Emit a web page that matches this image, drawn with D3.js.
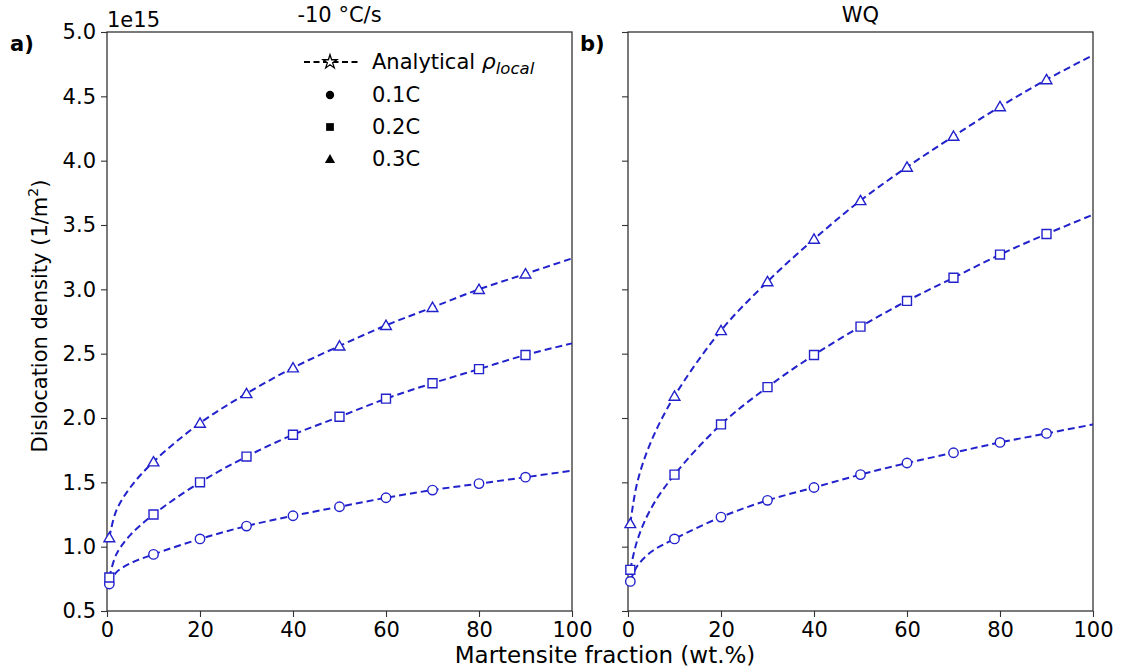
<!DOCTYPE html>
<html><head><meta charset="utf-8">
<script src="https://cdn.jsdelivr.net/npm/d3@7"></script>
<style>body{margin:0;background:#fff}svg{display:block}text{font-family:"DejaVu Sans",sans-serif;fill:#000}</style>
</head><body><svg id="c" width="1122" height="670"></svg>
<script>
// ---- data ----
const xCurve  = [0.5, 2, 5, 10, 20, 30, 40, 50, 60, 70, 80, 90, 100];
const xMarker = [0.5, 10, 20, 30, 40, 50, 60, 70, 80, 90];
const seriesNames = ["0.1C", "0.2C", "0.3C"];
const panelTitles = ["-10 °C/s", "WQ"];
const panelTags = ["a)", "b)"];
// left panel: -10 °C/s
const slow01 = [0.71, 0.80, 0.87, 0.94, 1.06, 1.16, 1.24, 1.31, 1.38, 1.44, 1.49, 1.54, 1.59];
const slow02 = [0.76, 0.94, 1.09, 1.25, 1.50, 1.70, 1.87, 2.01, 2.15, 2.27, 2.38, 2.49, 2.58];
const slow03 = [1.07, 1.28, 1.46, 1.66, 1.96, 2.19, 2.39, 2.56, 2.72, 2.86, 3.00, 3.12, 3.24];
// right panel: WQ
const wq01 = [0.73, 0.85, 0.96, 1.06, 1.23, 1.36, 1.46, 1.56, 1.65, 1.73, 1.81, 1.88, 1.95];
const wq02 = [0.82, 1.05, 1.30, 1.56, 1.95, 2.24, 2.49, 2.71, 2.91, 3.09, 3.27, 3.43, 3.58];
const wq03 = [1.18, 1.50, 1.82, 2.17, 2.68, 3.06, 3.39, 3.69, 3.95, 4.19, 4.42, 4.63, 4.82];
const yTicks = [0.5, 1.0, 1.5, 2.0, 2.5, 3.0, 3.5, 4.0, 4.5, 5.0];
const xTicks = [0, 20, 40, 60, 80, 100];

const panels = [[slow01, slow02, slow03], [wq01, wq02, wq03]];
const svg = d3.select("#c");
const FS = 21;
const lineColor = "#2222cc";
const frame = "#333";
const plotTop = 32, plotBottom = 611;
const lefts = [107, 628], W = 465;

const y = d3.scaleLinear().domain([0.5, 5.0]).range([plotBottom, plotTop]);

const symbols = [d3.symbolCircle, d3.symbolSquare, d3.symbolTriangle];
const symSizes = [70, 80, 50];

panels.forEach((ser, pi) => {
  const x = d3.scaleLinear().domain([0, 100]).range([lefts[pi], lefts[pi] + W]);
  const g = svg.append("g");
  const xa = g.append("g").attr("transform", `translate(0,${plotBottom})`)
    .call(d3.axisBottom(x).tickValues(xTicks).tickSize(6).tickPadding(5));
  const ya = g.append("g").attr("transform", `translate(${lefts[pi]},0)`)
    .call(d3.axisLeft(y).tickValues(yTicks).tickSize(6).tickPadding(5)
      .tickFormat(pi === 0 ? d3.format(".1f") : () => ""));
  [xa, ya].forEach(a => {
    a.select(".domain").remove();
    a.selectAll(".tick line").attr("stroke", frame).attr("stroke-width", 1.1);
    a.selectAll("text").attr("font-size", FS).attr("font-family", "DejaVu Sans").attr("fill", "#000");
  });
  xa.selectAll("text").attr("dy", "0.72em");
  g.append("rect").attr("x", lefts[pi]).attr("y", plotTop).attr("width", W).attr("height", plotBottom - plotTop)
    .attr("fill", "none").attr("stroke", frame).attr("stroke-width", 1.3);

  const line = d3.line().x((d, i) => x(xCurve[i])).y(d => y(d)).curve(d3.curveCatmullRom.alpha(0.5));
  ser.forEach((vals) => {
    g.append("path").attr("d", line(vals)).attr("fill", "none")
      .attr("stroke", lineColor).attr("stroke-width", 2).attr("stroke-dasharray", "7,4");
  });
  ser.forEach((vals, si) => {
    const pts = xMarker.map(xm => [xm, vals[xCurve.indexOf(xm)]]);
    g.selectAll(null).data(pts).enter().append("path")
      .attr("d", d3.symbol().type(symbols[si]).size(symSizes[si]))
      .attr("transform", d => `translate(${x(d[0])},${y(d[1]) + (si === 2 ? 1 : 0)})`)
      .attr("fill", "#fff").attr("stroke", lineColor).attr("stroke-width", 1.4);
  });
  g.append("text").attr("x", lefts[pi] + W / 2).attr("y", 22).attr("text-anchor", "middle")
    .attr("font-size", FS).text(panelTitles[pi]);
  g.append("text").attr("x", pi === 0 ? 10 : 580).attr("y", 51).attr("font-size", FS)
    .attr("font-weight", "bold").text(panelTags[pi]);
});

svg.append("text").attr("x", 107).attr("y", 27).attr("font-size", FS).text("1e15");

svg.append("text").attr("x", 605).attr("y", 663).attr("text-anchor", "middle").attr("font-size", 23)
  .text("Martensite fraction (wt.%)");
const yl = svg.append("text").attr("transform", "translate(47,316) rotate(-90)")
  .attr("text-anchor", "middle").attr("font-size", FS);
yl.append("tspan").text("Dislocation density (1/m");
yl.append("tspan").attr("font-size", 14).attr("dy", -9).text("2");
yl.append("tspan").attr("dy", 9).text(")");

const lg = svg.append("g");
const lx0 = 304, lx1 = 358, lmid = 330, ltx = 372;
const lys = [62, 95, 127, 159];
lg.append("line").attr("x1", lx0).attr("x2", lx1).attr("y1", lys[0]).attr("y2", lys[0])
  .attr("stroke", "#000").attr("stroke-width", 1.8).attr("stroke-dasharray", "6,3.5");
lg.append("path").attr("d", d3.symbol().type(d3.symbolStar).size(60))
  .attr("transform", `translate(${lmid},${lys[0]})`).attr("fill", "#fff").attr("stroke", "#000").attr("stroke-width", 1.3);
const lt = lg.append("text").attr("x", ltx).attr("y", lys[0] + 7).attr("font-size", FS);
lt.append("tspan").text("Analytical ");
lt.append("tspan").attr("font-style", "italic").attr("font-size", 22).text("ρ");
lt.append("tspan").attr("font-style", "italic").attr("font-size", 16.5).attr("dy", 5).text("local");
seriesNames.forEach((n, i) => {
  lg.append("path").attr("d", d3.symbol().type(symbols[i]).size([55, 60, 45][i]))
    .attr("transform", `translate(${lmid},${lys[i + 1] + (i === 2 ? 1 : 0)})`).attr("fill", "#000");
  lg.append("text").attr("x", ltx).attr("y", lys[i + 1] + 7).attr("font-size", FS).text(n);
});
</script></body></html>
